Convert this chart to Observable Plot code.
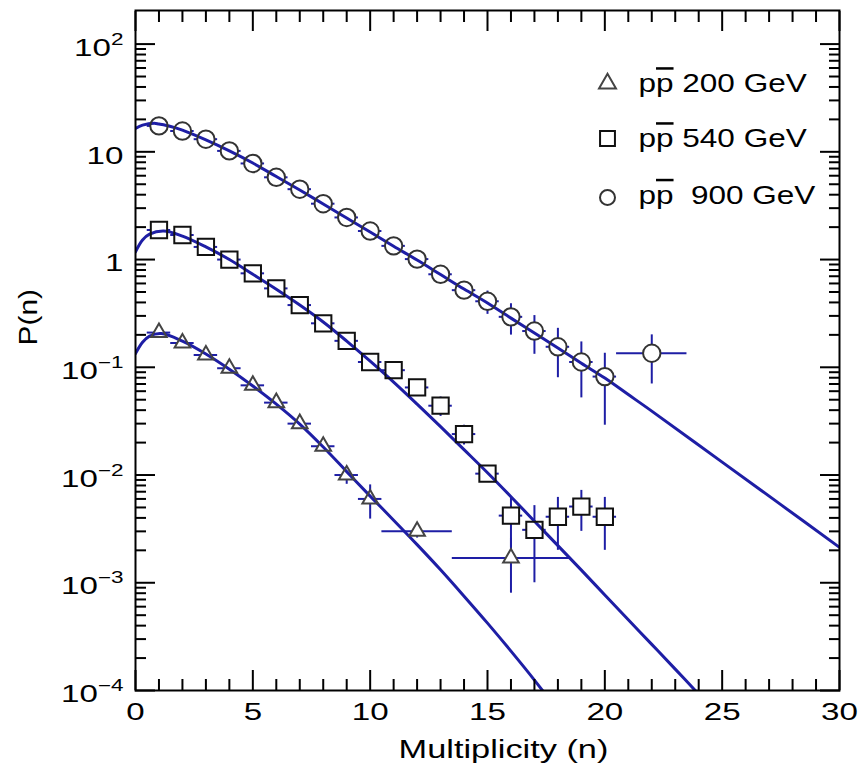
<!DOCTYPE html>
<html><head><meta charset="utf-8">
<script src="https://cdn.jsdelivr.net/npm/d3@7"></script>
<script src="https://cdn.jsdelivr.net/npm/@observablehq/plot@0.6"></script>
<style>html,body{margin:0;padding:0;background:#fff;} svg{display:block;}</style>
</head><body><div id="chart"></div>
<script>
// ---- data: p-pbar 200 GeV (triangles)
const n200  = [1, 2, 3, 4, 5, 6, 7, 8, 9, 10, 12, 16];
const p200  = [0.21, 0.168, 0.13, 0.098, 0.068, 0.047, 0.030, 0.0185, 0.0100, 0.0060, 0.0030, 0.0017];
const ex200 = [0.5, 0.5, 0.5, 0.5, 0.5, 0.5, 0.5, 0.5, 0.5, 0.5, 1.5, 2.5];
const ey200 = [0.008, 0.006, 0.005, 0.004, 0.003, 0.003, 0.002, 0.0015, 0.0018, 0.0021, 0.0004, 0.0009];
// ---- p-pbar 540 GeV (squares)
const n540  = [1, 2, 3, 4, 5, 6, 7, 8, 9, 10, 11, 12, 13, 14, 15, 16, 17, 18, 19, 20];
const p540  = [1.88, 1.69, 1.31, 1.0, 0.745, 0.54, 0.378, 0.256, 0.176, 0.112, 0.094, 0.065, 0.044, 0.024, 0.0103, 0.0042, 0.0031, 0.0041, 0.0051, 0.0041];
const ex540 = [0.5, 0.5, 0.5, 0.5, 0.5, 0.5, 0.5, 0.5, 0.5, 0.5, 0.5, 0.5, 0.5, 0.5, 0.5, 0.5, 0.5, 0.5, 0.5, 0.5];
const ey540 = [0.05, 0.05, 0.04, 0.03, 0.025, 0.02, 0.015, 0.012, 0.009, 0.007, 0.005, 0.006, 0.009, 0.005, 0.001, 0.0021, 0.0021, 0.0021, 0.0021, 0.0021];
// ---- p-pbar 900 GeV (circles)
const n900  = [1, 2, 3, 4, 5, 6, 7, 8, 9, 10, 11, 12, 13, 14, 15, 16, 17, 18, 19, 20, 22];
const p900  = [17.4, 15.6, 13.1, 10.2, 7.8, 5.8, 4.5, 3.3, 2.46, 1.84, 1.34, 1.01, 0.73, 0.52, 0.41, 0.294, 0.217, 0.155, 0.112, 0.082, 0.135];
const ex900 = [0.5, 0.5, 0.5, 0.5, 0.5, 0.5, 0.5, 0.5, 0.5, 0.5, 0.5, 0.5, 0.5, 0.5, 0.5, 0.5, 0.5, 0.5, 0.5, 0.5, 1.5];
const ey900 = [0.5, 0.5, 0.4, 0.35, 0.3, 0.25, 0.2, 0.17, 0.13, 0.1, 0.08, 0.07, 0.05, 0.07, 0.1, 0.095, 0.085, 0.075, 0.06, 0.053, 0.065];
// ---- fitted curves
const fitN200 = [0, 0.3, 0.6, 1.1, 2, 3, 4, 5, 6, 7, 8, 9, 10, 11, 12, 13, 14, 15, 16, 17, 17.4];
const fitP200 = [0.134, 0.171, 0.195, 0.206, 0.175, 0.133, 0.096, 0.067, 0.0455, 0.0297, 0.0182, 0.01076, 0.00637, 0.00381, 0.00226, 0.00132, 0.000751, 0.000422, 0.000232, 0.000125, 0.0000964];
const fitN540 = [0, 0.3, 0.6, 1.2, 2, 3, 4, 5, 6, 7, 8, 9, 10, 11, 12, 13, 14, 15, 16, 17, 18, 19, 20, 21, 22, 23, 24];
const fitP540 = [1.18, 1.52, 1.72, 1.84, 1.65, 1.31, 1.0, 0.73, 0.53, 0.378, 0.263, 0.175, 0.114, 0.0729, 0.0455, 0.0281, 0.0172, 0.0105, 0.00629, 0.00373, 0.00221, 0.00131, 0.00077, 0.000454, 0.000268, 0.000158, 0.0000924];
const fitN900 = [0, 0.3, 0.8, 1, 1.5, 2, 3, 4, 5, 6, 7, 8, 9, 10, 11, 12, 13, 14, 15, 16, 17, 18, 19, 20, 21, 22, 25, 27.5, 30];
const fitP900 = [16.5, 17.7, 18.4, 18.1, 17.2, 15.9, 12.9, 10.2, 7.87, 5.9, 4.42, 3.28, 2.43, 1.80, 1.33, 0.99, 0.726, 0.532, 0.395, 0.286, 0.208, 0.151, 0.109, 0.0794, 0.0558, 0.0392, 0.01318, 0.00531, 0.00213];
// ---- ticks / labels
const xMajorTicks = [0, 5, 10, 15, 20, 25, 30];
const xMinorTicks = d3.range(0, 31).filter(v => v % 5 !== 0);
const yMajorTicks = [1e-4, 1e-3, 1e-2, 1e-1, 1, 10, 100];
const yTickLabels = ["10^\u22124", "10^\u22123", "10^\u22122", "10^\u22121", "1", "10", "10^2"];
const yMinorTicks = [];
for (let e = -4; e <= 1; e++) for (let k = 2; k <= 9; k++) yMinorTicks.push(+(k * Math.pow(10, e)).toPrecision(3));
const legendLabels  = ["pp 200 GeV", "pp 540 GeV", "pp\u00a0 900 GeV"];
const legendSymbols = ["triangle", "square", "circle"];
const xTitle = "Multiplicity (n)";
const yTitle = "P(n)";

const mk = (N, P, EX, EY) => N.map((n, i) => ({n, p: P[i], ex: EX ? EX[i] : 0, ey: EY ? EY[i] : 0}));
const pts200 = mk(n200, p200, ex200, ey200);
const pts540 = mk(n540, p540, ex540, ey540);
const pts900 = mk(n900, p900, ex900, ey900);
const fit200 = mk(fitN200, fitP200);
const fit540 = mk(fitN540, fitP540);
const fit900 = mk(fitN900, fitP900);

const blue = "#1e1ea5";
const series = [
  {pts: pts200, symbol: "triangle", r: 5.8, stroke: "#444"},
  {pts: pts540, symbol: "square", r: 9.2, stroke: "#111"},
  {pts: pts900, symbol: "circle", r: 8.7, stroke: "#333"}
];
const errMarks = series.flatMap(s => [
  Plot.ruleX(s.pts, {x: "n", y1: d => d.p - d.ey, y2: d => d.p + d.ey, stroke: blue, strokeWidth: 2, clip: true}),
  Plot.ruleY(s.pts, {y: "p", x1: d => d.n - d.ex, x2: d => d.n + d.ex, stroke: blue, strokeWidth: 2, clip: true})
]);
const fillMarks = series.map(s => Plot.dot(s.pts, {x: "n", y: "p", symbol: s.symbol, r: s.r, fill: "white"}));
const strokeMarks = series.map(s => Plot.dot(s.pts, {x: "n", y: "p", symbol: s.symbol, r: s.r, fill: "none", stroke: s.stroke, strokeWidth: 2}));
const fitMarks = [fit200, fit540, fit900].map(f => Plot.line(f, {x: "n", y: "p", stroke: blue, strokeWidth: 3, curve: "catmull-rom", clip: true}));

const legendDy = [73, 128, 187];
const legendTextDy = [91.7, 146.7, 203.3];
const legendR = [6.3, 8.4, 7.5];
const legendStroke = ["#444", "#111", "#333"];
const legendMarks = legendLabels.flatMap((lab, i) => [
  Plot.dot([lab], {frameAnchor: "top-left", dx: 472, dy: legendDy[i], symbol: legendSymbols[i], r: legendR[i], fill: "none", stroke: legendStroke[i], strokeWidth: 2}),
  Plot.text([lab], {frameAnchor: "top-left", dx: 503, dy: legendTextDy[i] - 10, text: d => d, textAnchor: "start", lineAnchor: "bottom", fontSize: 25})
]);

const fmtY = d => yTickLabels[Math.round(Math.log10(d)) + 4];
const noText = () => "";

const chart = Plot.plot({
  width: 858, height: 773,
  marginLeft: 135, marginRight: 19, marginTop: 10, marginBottom: 83,
  x: {domain: [0, 30]},
  y: {type: "log", domain: [1e-4, 205]},
  style: {fontFamily: "'Liberation Sans', Arial, Helvetica, sans-serif", fontSize: "24px", color: "black", background: "white"},
  marks: [
    ...errMarks,
    ...fillMarks,
    ...fitMarks,
    ...strokeMarks,
    // ticks (inside)
    Plot.axisY(yMajorTicks, {anchor: "left", tickSize: -20, strokeWidth: 2, tickFormat: noText, label: null}),
    Plot.axisY(yMinorTicks, {anchor: "left", tickSize: -11, strokeWidth: 2, tickFormat: noText, label: null}),
    Plot.axisY(yMajorTicks, {anchor: "right", tickSize: -20, strokeWidth: 2, tickFormat: noText, label: null}),
    Plot.axisY(yMinorTicks, {anchor: "right", tickSize: -11, strokeWidth: 2, tickFormat: noText, label: null}),
    Plot.axisX(xMajorTicks, {anchor: "bottom", tickSize: -20, strokeWidth: 2, tickFormat: noText, label: null}),
    Plot.axisX(xMinorTicks, {anchor: "bottom", tickSize: -11, strokeWidth: 2, tickFormat: noText, label: null}),
    Plot.axisX(xMajorTicks, {anchor: "top", tickSize: -20, strokeWidth: 2, tickFormat: noText, label: null}),
    Plot.axisX(xMinorTicks, {anchor: "top", tickSize: -11, strokeWidth: 2, tickFormat: noText, label: null}),
    // tick labels
    Plot.axisY(yMajorTicks, {anchor: "left", tickSize: 0, tickPadding: 12, dy: 4, tickFormat: fmtY, label: null}),
    Plot.axisX(xMajorTicks, {anchor: "bottom", tickSize: 0, tickPadding: 12, label: null}),
    Plot.frame({stroke: "black", strokeWidth: 2}),
    // axis titles
    Plot.text([xTitle], {frameAnchor: "bottom", dx: 16, dy: 67, lineAnchor: "bottom", fontSize: 26, text: d => d}),
    Plot.text([yTitle], {frameAnchor: "left", dx: -107, dy: -5, rotate: -90, fontSize: 26, text: d => d}),
    ...legendMarks
  ]
});
document.getElementById("chart").appendChild(chart);

// ---- text post-processing: superscripts, overline, wide lettering
const svgNS = "http://www.w3.org/2000/svg";
d3.select(chart).selectAll("text").each(function() {
  const t = this.textContent;
  if (t.includes("^")) {
    const [base, sup] = t.split("^");
    while (this.firstChild) this.removeChild(this.firstChild);
    const a = document.createElementNS(svgNS, "tspan"); a.textContent = base; this.appendChild(a);
    const b = document.createElementNS(svgNS, "tspan"); b.textContent = sup;
    b.setAttribute("font-size", "0.68em"); b.setAttribute("dy", "-11"); this.appendChild(b);
  } else if (t.startsWith("pp")) {
    while (this.firstChild) this.removeChild(this.firstChild);
    const a = document.createElementNS(svgNS, "tspan"); a.textContent = "p"; this.appendChild(a);
    const b = document.createElementNS(svgNS, "tspan"); b.textContent = "p"; b.setAttribute("style", "text-decoration: overline"); this.appendChild(b);
    const c = document.createElementNS(svgNS, "tspan"); c.textContent = t.slice(2); this.appendChild(c);
  }
});
d3.select(chart).selectAll("text").each(function() {
  const t = this.textContent;
  if (!t) return;
  let f = 1.38;
  if (t.startsWith("pp")) f = 1.26;
  else if (t === xTitle) f = 1.32;
  else if (t === yTitle) f = 1.15;
  const len = this.getComputedTextLength();
  if (len > 0) {
    this.setAttribute("textLength", (len * f).toFixed(1));
    this.setAttribute("lengthAdjust", "spacingAndGlyphs");
  }
});
</script>
</body></html>
